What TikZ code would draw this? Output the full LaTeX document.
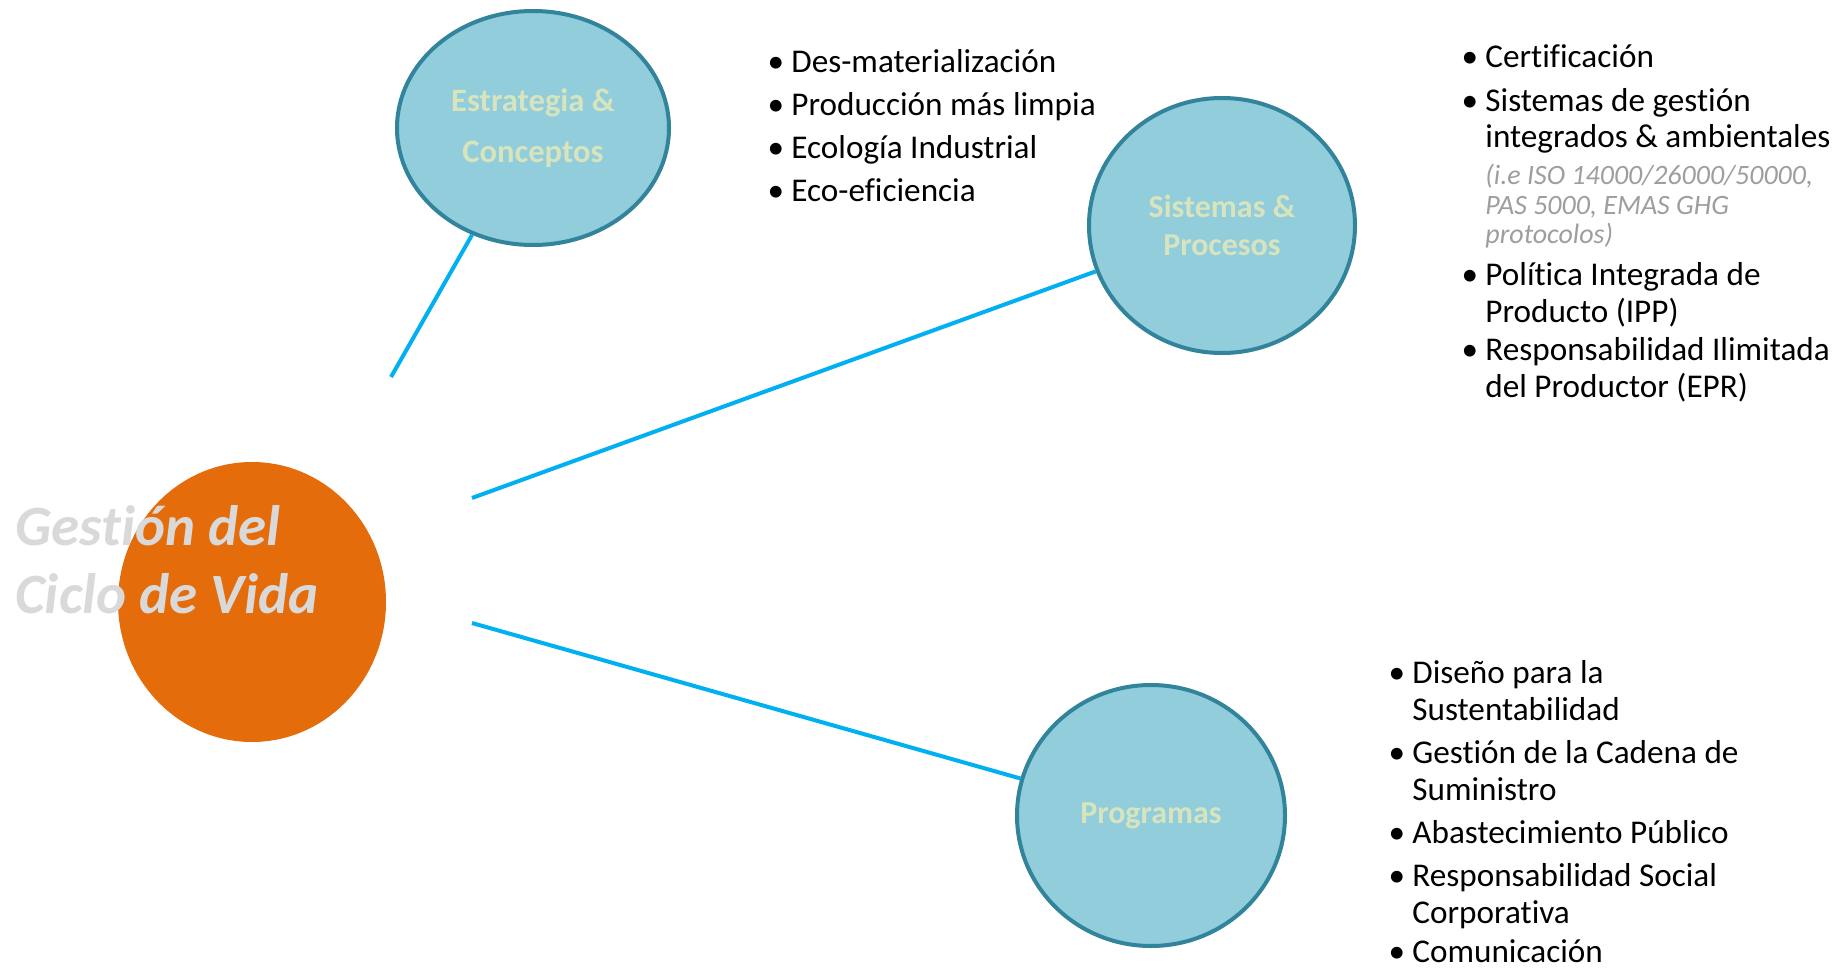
\documentclass[tikz,border=0pt]{standalone}
\usepackage{fontspec}
\setmainfont{Carlito}[Ligatures=NoCommon]
\usetikzlibrary{shapes.geometric}

\definecolor{hubOrange}{HTML}{E46C0A}
\definecolor{topicFill}{HTML}{92CDDC}
\definecolor{topicEdge}{HTML}{31849B}
\definecolor{topicText}{HTML}{D7E4BD}
\definecolor{linkBlue}{HTML}{00B0F0}
\definecolor{titleGray}{HTML}{D9D9D9}
\definecolor{noteGray}{HTML}{9E9E9E}

% one bullet point: bullet glyph plus its text, placed on a baseline
\newcommand\bulletline[4]{%
  \node[bulletmark] (#1m) at (#2-15,#3) {•};
  \node[itemtext] (#1) at (#2,#3) {#4};}
\newcommand\plainline[4]{\node[#1] (#2) at (#3) {#4};}

\begin{document}
\begin{tikzpicture}[x=0.5pt,y=-0.5pt,
  hub/.style={ellipse, fill=hubOrange, inner sep=0, minimum width=134pt, minimum height=140pt},
  topic/.style={ellipse, draw=topicEdge, line width=2pt, fill=topicFill, inner sep=0,
    align=center, text=topicText, font=\bfseries\fontsize{16}{19}\selectfont},
  link/.style={draw=linkBlue, line width=2pt},
  title/.style={anchor=base west, inner sep=0, text=titleGray,
    font=\bfseries\itshape\fontsize{28.5}{34}\selectfont},
  itemtext/.style={anchor=base west, inner sep=0, font=\fontsize{16.6}{19}\selectfont},
  bulletmark/.style={anchor=base, inner sep=0, font=\fontsize{16.6}{19}\selectfont},
  note/.style={anchor=base west, inner sep=0, text=noteGray,
    font=\itshape\fontsize{14}{16}\selectfont}]

\useasboundingbox[fill=white] (0,0) rectangle (1844,969);

% central hub and its three topics
\node[hub] (hub) at (252,602) {};
\node[topic, minimum width=136pt, minimum height=117pt,
  font=\bfseries\fontsize{16.3}{25.5}\selectfont] (estr) at (533,128)
  {Estrategia \&\\Conceptos};
\node[topic, minimum width=133pt, minimum height=127.5pt] (sist) at (1222,225.5)
  {Sistemas \&\\Procesos};
\node[topic, minimum width=134pt, minimum height=130.5pt] (prog) at (1151,815.5)
  {Programas};

% connectors start just off the hub
\coordinate (s1) at (391,377);
\coordinate (s2) at (472,498);
\coordinate (s3) at (472,623);
\draw[link] (s1) -- (estr);
\draw[link] (s2) -- (sist);
\draw[link] (s3) -- (prog);

% hub title
\node[title] (gcv1) at (15,545) {Gestión del};
\node[title] (gcv2) at (15,613) {Ciclo de Vida};

% strategy and concept items
\bulletline{a1}{791}{72}{Des-materialización}
\bulletline{a2}{791}{115}{Producción más limpia}
\bulletline{a3}{791}{158}{Ecología Industrial}
\bulletline{a4}{791}{201}{Eco-eficiencia}

% systems and process items
\bulletline{b1}{1485}{68}{Certificación}
\bulletline{b2}{1485}{111}{Sistemas de gestión}
\plainline{itemtext}{b2b}{1485,147}{integrados \& ambientales}
\plainline{note}{b2c}{1485,184}{(i.e ISO 14000/26000/50000,}
\plainline{note}{b2d}{1485,214}{PAS 5000, EMAS GHG}
\plainline{note}{b2e}{1485,243}{protocolos)}
\bulletline{b3}{1485}{285}{Política Integrada de}
\plainline{itemtext}{b3b}{1485,322}{Producto (IPP)}
\bulletline{b4}{1485}{360}{Responsabilidad Ilimitada}
\plainline{itemtext}{b4b}{1485,397}{del Productor (EPR)}

% programme items
\bulletline{c1}{1412}{683}{Diseño para la}
\plainline{itemtext}{c1b}{1412,720}{Sustentabilidad}
\bulletline{c2}{1412}{763}{Gestión de la Cadena de}
\plainline{itemtext}{c2b}{1412,800}{Suministro}
\bulletline{c3}{1412}{843}{Abastecimiento Público}
\bulletline{c4}{1412}{886}{Responsabilidad Social}
\plainline{itemtext}{c4b}{1412,923}{Corporativa}
\bulletline{c5}{1412}{962}{Comunicación}
\end{tikzpicture}
\end{document}
